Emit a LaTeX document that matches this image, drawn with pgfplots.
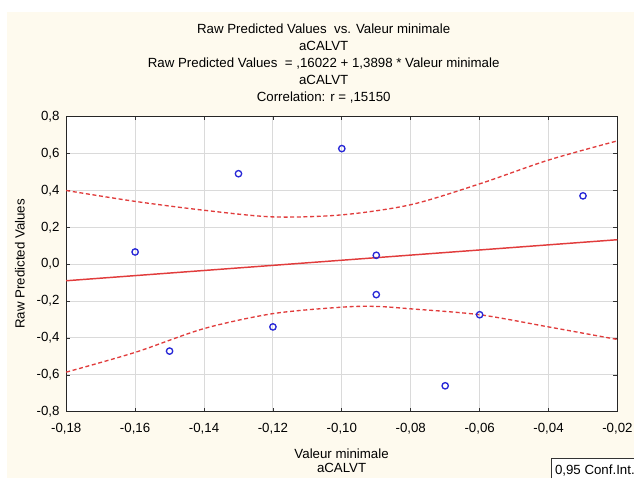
\documentclass[border=0pt]{standalone}
\usepackage{fontspec}
\setmainfont{Liberation Sans}
\usepackage{pgfplots}
\pgfplotsset{compat=1.18}
\definecolor{panel}{RGB}{254,250,238}
\definecolor{ptblue}{RGB}{40,40,215}
\definecolor{fitred}{RGB}{225,60,60}
\definecolor{gridgray}{RGB}{218,218,218}
\begin{document}
\begin{tikzpicture}
\begin{scope}[x=0.75pt,y=-0.75pt]
\fill[white] (0,0) rectangle (637,480);
\fill[panel] (7,12) rectangle (637,480);
\end{scope}
\begin{axis}[
  at={(49.875pt,-310.125pt)}, anchor=south west,
  scale only axis, width=415.1pt, height=222.4pt,
  xmin=-0.18, xmax=-0.02, ymin=-0.8, ymax=0.8,
  xtick={-0.18,-0.16,-0.14,-0.12,-0.10,-0.08,-0.06,-0.04,-0.02},
  ytick={-0.8,-0.6,-0.4,-0.2,0,0.2,0.4,0.6,0.8},
  /pgf/number format/assume math mode=true,
  xticklabel style={/pgf/number format/.cd,fixed,fixed zerofill,precision=2,use comma,/tikz/.cd,yshift=-5pt},
  yticklabel style={/pgf/number format/.cd,fixed,fixed zerofill,precision=1,use comma,/tikz/.cd,xshift=-1.5pt},
  tick label style={font=\fontsize{10pt}{12pt}\selectfont},
  tick align=inside, major tick length=3pt,
  tick style={black!80,line width=0.6pt},
  axis line style={black!85,line width=0.9pt},
  axis background/.style={fill=white},
  grid=major, grid style={gridgray,line width=0.75pt},
]
% fitted line
\addplot[fitred,line width=1.1pt] coordinates {(-0.18,-0.0899) (-0.02,0.1324)};
% confidence bands
\addplot[fitred,line width=1pt,dash pattern=on 3pt off 2pt,smooth] coordinates {
  (-0.18,0.399) (-0.16,0.340) (-0.14,0.292) (-0.12,0.256) (-0.10,0.267)
  (-0.08,0.322) (-0.06,0.435) (-0.04,0.564) (-0.02,0.668)};
\addplot[fitred,line width=1pt,dash pattern=on 3pt off 2pt,smooth] coordinates {
  (-0.18,-0.585) (-0.16,-0.478) (-0.14,-0.349) (-0.12,-0.268) (-0.10,-0.233)
  (-0.09,-0.229) (-0.08,-0.242) (-0.06,-0.274) (-0.04,-0.340) (-0.02,-0.408)};
% observations
\addplot[only marks,mark=o,mark size=2.4pt,ptblue,mark options={line width=1pt}] coordinates {
  (-0.16,0.066) (-0.15,-0.471) (-0.13,0.490) (-0.12,-0.340) (-0.10,0.626)
  (-0.09,0.048) (-0.09,-0.165) (-0.07,-0.659) (-0.06,-0.274) (-0.03,0.370)};
\end{axis}
\begin{scope}[x=0.75pt,y=-0.75pt]
\node[align=center,font=\fontsize{10pt}{12.75pt}\selectfont] at (325,64)
  {Raw Predicted Values\ \ vs. Valeur minimale\\ aCALVT\\
   Raw Predicted Values\ \ = ,16022 + 1,3898 * Valeur minimale\\ aCALVT\\
   Correlation: r = ,15150};
\node[font=\fontsize{10pt}{12pt}\selectfont] at (343,456) {Valeur minimale};
\node[font=\fontsize{10pt}{12pt}\selectfont] at (343,470) {aCALVT};
\node[font=\fontsize{10pt}{12pt}\selectfont,rotate=90] at (20,265) {Raw Predicted Values};
\fill[white] (553.5,460.5) rectangle (637,480);
\draw[black!80,line width=0.75pt,line cap=butt] (553.5,480) -- (553.5,460.5) -- (637,460.5);
\node[font=\fontsize{10pt}{12pt}\selectfont,anchor=west,inner sep=0pt] at (557,472) {0,95 Conf.Int.};
\end{scope}
\end{tikzpicture}
\end{document}
